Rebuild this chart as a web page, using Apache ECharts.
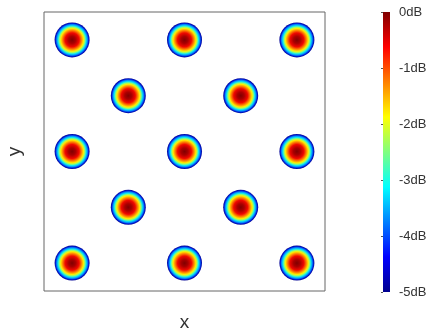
<!DOCTYPE html>
<html><head><meta charset="utf-8">
<script src="https://cdn.jsdelivr.net/npm/echarts@6/dist/echarts.min.js"></script>
<style>html,body{margin:0;padding:0;background:#fff}#c{width:441px;height:331px}</style>
</head><body><div id="c"></div>
<script>
// Spot centres (normalised plot coordinates)
const spotX = [0.1, 0.5, 0.9, 0.3, 0.7, 0.1, 0.5, 0.9, 0.3, 0.7, 0.1, 0.5, 0.9];
const spotY = [0.9, 0.9, 0.9, 0.7, 0.7, 0.5, 0.5, 0.5, 0.3, 0.3, 0.1, 0.1, 0.1];
// Colour bar range and ticks (dB)
const cbMin = -5, cbMax = 0;
const jet = [
  [0, '#00008F'], [0.125, '#0000FF'], [0.375, '#00FFFF'],
  [0.625, '#FFFF00'], [0.875, '#FF0000'], [1, '#800000']
];
// radial profile of each spot (offset from centre -> colour)
const spotStops = [
  [0, '#800000'], [0.2, '#A80000'], [0.4, '#F00800'], [0.55, '#FF8C00'],
  [0.65, '#FFEC00'], [0.73, '#90FF70'], [0.8, '#10E8F0'], [0.88, '#0088FF'],
  [0.94, '#0020D8'], [1, '#000090']
];

const spotColor = new echarts.graphic.RadialGradient(0.5, 0.5, 0.5, spotStops.map(([o, c]) => ({offset: o, color: c})));
const barColor = new echarts.graphic.LinearGradient(0, 1, 0, 0, jet.map(([t, c]) => ({offset: t, color: c})));

const chart = echarts.init(document.getElementById('c'), null, {renderer: 'canvas'});
const font = 'Liberation Sans, Arial, sans-serif';
chart.setOption({
  animation: false,
  grid: [
    {left: 44, top: 12, width: 281, height: 279, show: true, borderColor: '#666', borderWidth: 1, backgroundColor: '#fff', outerBoundsMode: 'none', containLabel: false},
    {left: 383, top: 12, width: 7, height: 280, show: false, outerBoundsMode: 'none', containLabel: false}
  ],
  xAxis: [
    {gridIndex: 0, type: 'value', min: 0, max: 1, axisLine: {show: false}, axisTick: {show: false}, axisLabel: {show: false}, splitLine: {show: false},
     name: 'x', nameLocation: 'middle', nameGap: 22, nameTextStyle: {fontSize: 19, color: '#333', fontFamily: font}},
    {gridIndex: 1, type: 'value', min: 0, max: 1, show: false}
  ],
  yAxis: [
    {gridIndex: 0, type: 'value', min: 0, max: 1, axisLine: {show: false}, axisTick: {show: false}, axisLabel: {show: false}, splitLine: {show: false},
     name: 'y', nameLocation: 'middle', nameRotate: 90, nameGap: 20, nameTextStyle: {fontSize: 19, color: '#333', fontFamily: font}},
    {gridIndex: 1, type: 'value', min: cbMin, max: cbMax, interval: 1, position: 'right',
     axisLine: {show: false}, axisTick: {show: true, inside: true, length: 2, lineStyle: {color: '#555'}}, splitLine: {show: false},
     axisLabel: {margin: 9, fontSize: 13, color: '#333', fontFamily: font, formatter: v => v + 'dB'}}
  ],
  series: [
    {type: 'scatter', xAxisIndex: 0, yAxisIndex: 0, symbol: 'circle', symbolSize: 35,
     itemStyle: {color: spotColor, opacity: 1},
     data: spotX.map((x, i) => [x, spotY[i]])},
    {type: 'custom', xAxisIndex: 1, yAxisIndex: 1,
     data: [[0, cbMin, 1, cbMax]],
     renderItem: (params, api) => {
       const p0 = api.coord([api.value(0), api.value(3)]);
       const p1 = api.coord([api.value(2), api.value(1)]);
       return {type: 'rect', shape: {x: p0[0], y: p0[1], width: p1[0] - p0[0], height: p1[1] - p0[1]}, style: {fill: barColor}};
     }}
  ]
});
</script></body></html>
